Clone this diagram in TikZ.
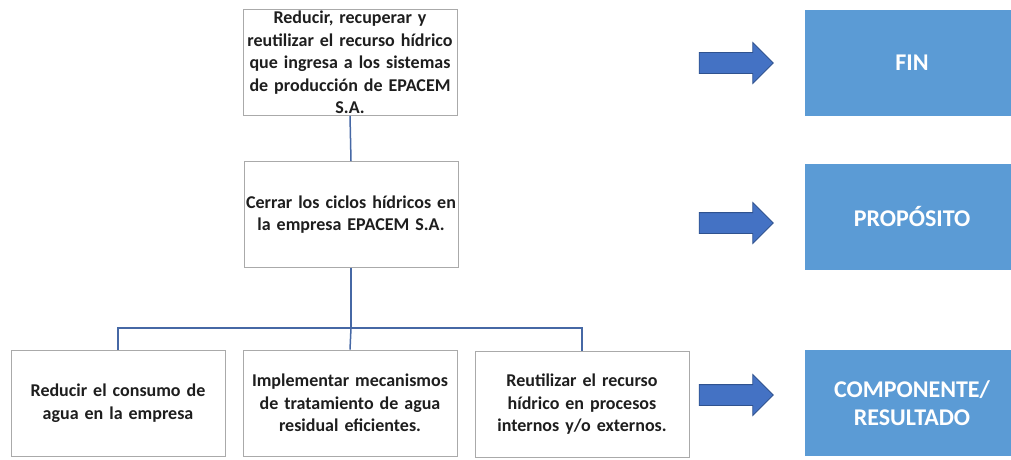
\documentclass[tikz,border=0pt]{standalone}
\usepackage{fontspec}
\setmainfont{Carlito}
\usetikzlibrary{shapes.arrows}
\definecolor{linkblue}{RGB}{70,104,165}
\definecolor{boxgray}{RGB}{170,170,170}
\definecolor{tagblue}{RGB}{91,155,213}
\definecolor{arrowfill}{RGB}{68,114,196}
\definecolor{arrowedge}{RGB}{47,82,143}
\definecolor{txt}{RGB}{30,30,30}
\tikzset{
  whitebox/.style={draw=boxgray, line width=0.9pt, fill=white, minimum width=214pt, minimum height=106pt,
    text width=212pt, align=center, inner sep=1pt, text=txt,
    font=\bfseries\fontsize{18pt}{22.5pt}\selectfont},
  tagbox/.style={fill=tagblue, minimum width=214pt, minimum height=106pt, text=white, align=center,
    font=\bfseries\fontsize{24pt}{28pt}\selectfont},
  bigarrow/.style={single arrow, fill=arrowfill, draw=arrowedge, line width=0.8pt, outer sep=0pt,
    minimum height=74pt, inner sep=10pt, single arrow head extend=10pt,
    single arrow tip angle=90, shape border rotate=0},
  link/.style={draw=linkblue, line width=1.5pt}
}
\begin{document}
\begin{tikzpicture}[x=1pt,y=-1pt]
\clip (0,0) rectangle (1011,460);
\fill[white] (0,0) rectangle (1011,460);
% tree boxes
\node[whitebox] (fin) at (350,62.5) {Reducir, recuperar y\\reutilizar el recurso hídrico\\que ingresa a los sistemas\\de producción de EPACEM\\S.A.};
\node[whitebox] (prop) at (351,214.5) {Cerrar los ciclos hídricos en\\la empresa EPACEM S.A.};
\node[whitebox] (ca) at (118,403) {Reducir el consumo de\\agua en la empresa};
\node[whitebox] (cb) at (350,403) {Implementar mecanismos\\de tratamiento de agua\\residual eficientes.};
\node[whitebox] (cc) at (582,404.5) {Reutilizar el recurso\\hídrico en procesos\\internos y/o externos.};
\coordinate (bar) at (351,328);
% connectors
\draw[link] (fin.south) -- (prop.north);
\draw[link] (prop.south) -- (bar);
\draw[link] (ca.north) -- (ca.north |- bar) -- (cc.north |- bar) -- (cc.north);
\draw[link] (bar) -- (cb.north);
% arrows
\node[bigarrow] (a1) at (731,63) {};
\node[bigarrow] (a2) at (731,223) {};
\node[bigarrow] (a3) at (731,395) {};
% level tags
\node[tagbox] (tfin) at (912,63) {FIN};
\node[tagbox] (tprop) at (912,217) {PROPÓSITO};
\node[tagbox] (tcomp) at (912,403) {COMPONENTE/\\RESULTADO};
\end{tikzpicture}
\end{document}
